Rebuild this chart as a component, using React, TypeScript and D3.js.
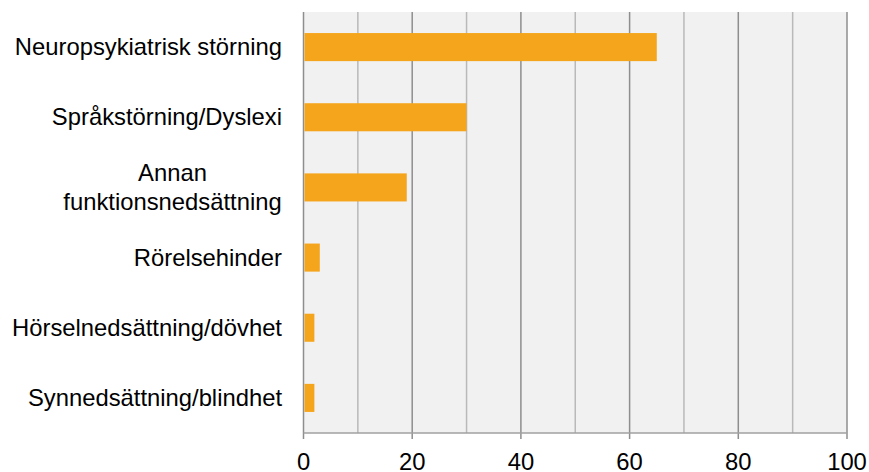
import React from "react";
import * as d3 from "d3";

const categories: string[][] = [
  ["Neuropsykiatrisk störning"],
  ["Språkstörning/Dyslexi"],
  ["Annan", "funktionsnedsättning"],
  ["Rörelsehinder"],
  ["Hörselnedsättning/dövhet"],
  ["Synnedsättning/blindhet"],
];
const values: number[] = [65, 30, 19, 3, 2, 2];
const majorTicks: number[] = [0, 20, 40, 60, 80, 100];
const minorTicks: number[] = [10, 30, 50, 70, 90];

const W = 869;
const H = 472;
const M = { left: 303.5, right: 22, top: 12, bottom: 39 };
const FONT = "'Liberation Sans', Arial, sans-serif";
const FS = 23.8;

export default function App() {
  const x = d3.scaleLinear().domain([0, 100]).range([M.left, W - M.right]);
  const y = d3
    .scaleBand<number>()
    .domain(d3.range(categories.length))
    .range([M.top, H - M.bottom])
    .paddingInner(0.6)
    .paddingOuter(0.3);
  const bottom = H - M.bottom;
  const lineH = 29;

  return (
    <div style={{ position: "absolute", left: 0, top: 0 }}>
      <svg width={W} height={H} style={{ display: "block", background: "#fff" }}>
        <rect x={x(0)} y={M.top} width={x(100) - x(0)} height={bottom - M.top} fill="#f1f1f1" />
        {minorTicks.map((t) => (
          <line key={"m" + t} x1={x(t)} x2={x(t)} y1={M.top} y2={bottom} stroke="#b9b9b9" strokeWidth={1.5} />
        ))}
        {majorTicks.map((t) => (
          <line key={"M" + t} x1={x(t)} x2={x(t)} y1={M.top} y2={bottom + 6} stroke="#8e8e8e" strokeWidth={1.5} />
        ))}
        <line x1={x(0)} x2={x(100)} y1={bottom} y2={bottom} stroke="#a0a0a0" strokeWidth={1.5} />
        {values.map((v, i) => (
          <rect key={i} x={x(0) + 1} y={y(i)!} width={x(v) - x(0) - 1} height={y.bandwidth()} fill="#f5a51c" />
        ))}
        {categories.map((lines, i) => {
          const cy = y(i)! + y.bandwidth() / 2;
          const n = lines.length;
          const cx = n > 1 ? 172.5 : 282;
          return (
            <text
              key={i}
              x={cx}
              textAnchor={n > 1 ? "middle" : "end"}
              fontFamily={FONT}
              fontSize={FS}
              fill="#000"
            >
              {lines.map((l, j) => (
                <tspan key={j} x={cx} y={cy + 8 + (j - (n - 1) / 2) * lineH}>
                  {l}
                </tspan>
              ))}
            </text>
          );
        })}
        {majorTicks.map((t) => (
          <text key={"t" + t} x={x(t)} y={470} textAnchor="middle" fontFamily={FONT} fontSize={FS} fill="#000">
            {t}
          </text>
        ))}
      </svg>
    </div>
  );
}
